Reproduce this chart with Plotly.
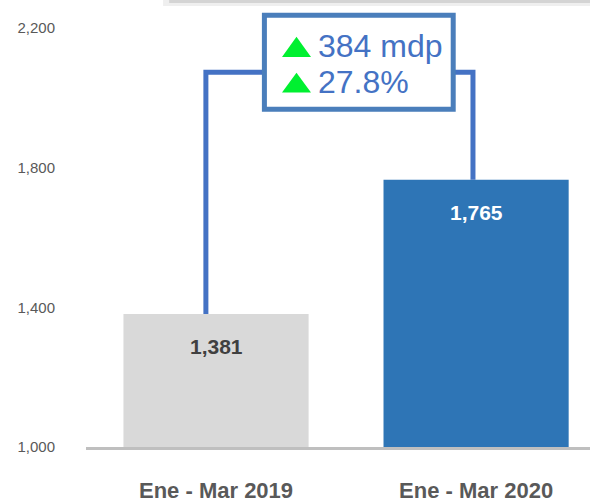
import plotly.graph_objects as go

# data
periods = ["Ene - Mar 2019", "Ene - Mar 2020"]
values = [1381, 1765]
bar_colors = ["#D9D9D9", "#2E75B6"]
label_colors = ["#404040", "#FFFFFF"]
y_ticks = [1000, 1400, 1800, 2200]
change_abs = "384 mdp"
change_pct = "27.8%"

# styling
bracket_y = 2073
blue = "#4472C4"
green = "#00F030"
x_idx = [0, 1]

fig = go.Figure()
fig.add_trace(go.Bar(x=x_idx, y=values, marker_color=bar_colors, width=0.712,
                     marker_line_width=0, hoverinfo="skip"))

# value labels inside bars
for i, v in enumerate(values):
    fig.add_annotation(x=x_idx[i], y=v, text="<b>{:,}</b>".format(v), showarrow=False,
                       yanchor="middle", yshift=-33,
                       font=dict(family="Liberation Sans", size=21, color=label_colors[i]))

# bracket connecting the two bars
fig.add_shape(type="path",
              path="M {} {} L {} {} L {} {}".format(x_idx[0] - 0.039, values[0], x_idx[0] - 0.039, bracket_y, 0.19, bracket_y),
              line=dict(color=blue, width=5))
fig.add_shape(type="path",
              path="M 0.9 {} L {} {} L {} {}".format(bracket_y, x_idx[1] - 0.012, bracket_y, x_idx[1] - 0.012, values[1]),
              line=dict(color=blue, width=5))

# change box
fig.add_shape(type="rect", x0=0.186, x1=0.912, y0=1967, y1=2236,
              line=dict(color="#4A7EBB", width=5), fillcolor="white")
for txt, yv, tri in [(change_abs, 2147, (2117, 2175)), (change_pct, 2044, (2015, 2072))]:
    fig.add_annotation(x=0.386, y=yv, xanchor="left", yanchor="middle", showarrow=False,
                       text=txt, font=dict(family="Liberation Sans", size=32, color=blue))
    # green up-triangle icon
    fig.add_shape(type="path",
                  path="M 0.2537 {0} L 0.3652 {0} L 0.3094 {1} Z".format(tri[0], tri[1]),
                  fillcolor=green, line_width=0)

# shadow strip at the top
fig.add_shape(type="rect", xref="paper", yref="paper", x0=0.153, x1=1, y0=1 - 6 / 449, y1=1,
              fillcolor="#EFEFEF", line_width=0, layer="below")
fig.add_shape(type="rect", xref="paper", yref="paper", x0=0.165, x1=1, y0=1 - 3 / 449, y1=1,
              fillcolor="#D4D4D4", line_width=0, layer="below")

fig.update_layout(
    width=590, height=503,
    margin=dict(l=86, r=0, t=0, b=54),
    paper_bgcolor="white", plot_bgcolor="white",
    showlegend=False,
    xaxis=dict(range=[-0.5, 1.438], tickvals=x_idx, ticktext=periods, showgrid=False,
               zeroline=False, showline=True, linecolor="#BFBFBF", linewidth=3,
               ticks="", ticklabelstandoff=22,
               tickfont=dict(family="Liberation Sans", size=22, color="#595959", weight="bold")),
    yaxis=dict(range=[1000, 2280], tickvals=y_ticks, tickformat=",", showgrid=False,
               zeroline=False, showline=False, ticks="", ticklabelstandoff=30,
               tickfont=dict(family="Liberation Sans", size=15, color="#595959")),
)

fig.write_html("out.html", config={"displayModeBar": False},
               post_script="document.body.style.margin='0';")
